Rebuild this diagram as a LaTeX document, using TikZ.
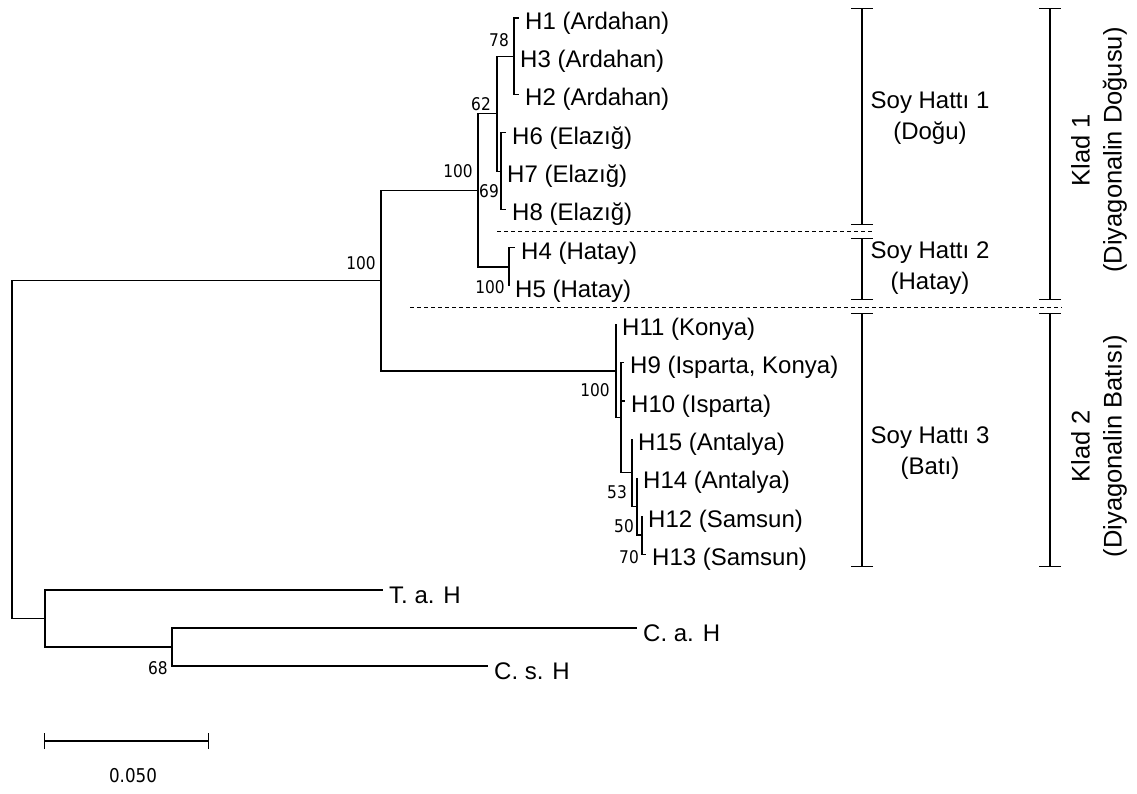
\documentclass[tikz,border=0pt]{standalone}
\usepackage{fontspec}
\setmainfont{Liberation Sans}
\newfontfamily\numfont[FakeStretch=0.88]{DejaVu Sans}
\usetikzlibrary{arrows.meta}
\tikzset{
    branch/.style={line width=1.2pt},
    longbranch/.style={line width=2pt},
    taxon/.style={anchor=west, inner sep=0pt, xshift=6pt, yshift=-5pt, font=\fontsize{24}{28}\selectfont},
    support/.style={inner sep=0pt, font=\numfont\fontsize{17.5}{19}\selectfont},
    lineage/.style={line width=1.4pt, {Bar[width=22pt]}-{Bar[width=22pt]}},
    lineagelbl/.style={align=center, inner sep=0pt, font=\fontsize{24}{31}\selectfont},
    kladlbl/.style={align=center, inner sep=0pt, rotate=90, font=\fontsize{25.5}{32}\selectfont},
    divider/.style={line width=1pt, dash pattern=on 4pt off 3pt}
}

\begin{document}
\begin{tikzpicture}[x=1pt, y=-1pt]
    \useasboundingbox (0,0) rectangle (1137,794);
% Inner nodes
    \coordinate (root) at (12,449.6);
    \coordinate (ing) at (381,280.7);
    \coordinate (k1) at (478,190.4);
    \coordinate (n62) at (497,113.8);
    \coordinate (n78) at (514,56.3);
    \coordinate (n69) at (501,171.2);
    \coordinate (n45) at (509,267);
    \coordinate (k2) at (616,371);
    \coordinate (m1) at (621,417.7);
    \coordinate (m2) at (632,472.8);
    \coordinate (m3) at (637,506.3);
    \coordinate (m4) at (642,535);
    \coordinate (og) at (45,618.5);
    \coordinate (pc) at (172,647);
% Tips
    \coordinate (H1) at (519,18);
    \coordinate (H3) at (514,56.3);
    \coordinate (H2) at (519,94.6);
    \coordinate (H6) at (506,132.9);
    \coordinate (H7) at (501,171.2);
    \coordinate (H8) at (506,209.5);
    \coordinate (H4) at (515,247.8);
    \coordinate (H5) at (509,286.1);
    \coordinate (H11) at (616,324.4);
    \coordinate (H9) at (624,362.7);
    \coordinate (H10) at (625,401);
    \coordinate (H15) at (632,439.3);
    \coordinate (H14) at (637,477.6);
    \coordinate (H12) at (642,515.9);
    \coordinate (H13) at (646,554.2);
    \coordinate (Tah) at (383,590);
    \coordinate (Cah) at (637,628);
    \coordinate (Csh) at (488,666);
% Branches
    \draw[branch] (root) |- (ing);
    \draw[branch] (root) |- (og);
    \draw[branch] (ing) |- (k1);
    \draw[branch] (ing) |- (k2);
    \draw[branch] (k1) |- (n62);
    \draw[branch] (k1) |- (n45);
    \draw[branch] (n62) |- (n78);
    \draw[branch] (n62) |- (n69);
    \draw[branch] (n78) |- (H1);
    \draw[branch] (n78) |- (H3);
    \draw[branch] (n78) |- (H2);
    \draw[branch] (n69) |- (H6);
    \draw[branch] (n69) |- (H7);
    \draw[branch] (n69) |- (H8);
    \draw[branch] (n45) |- (H4);
    \draw[branch] (n45) |- (H5);
    \draw[branch] (k2) |- (H11);
    \draw[branch] (k2) |- (m1);
    \draw[branch] (m1) |- (H9);
    \draw[branch] (m1) |- (H10);
    \draw[branch] (m1) |- (m2);
    \draw[branch] (m2) |- (H15);
    \draw[branch] (m2) |- (m3);
    \draw[branch] (m3) |- (H14);
    \draw[branch] (m3) |- (m4);
    \draw[branch] (m4) |- (H12);
    \draw[branch] (m4) |- (H13);
    \draw[branch] (og) |- (pc);
    \draw[longbranch] (og) |- (Tah);
    \draw[longbranch] (pc) |- (Cah);
    \draw[longbranch] (pc) |- (Csh);
% Taxon labels
    \node[taxon] (lH1) at (H1) {H1 (Ardahan)};
    \node[taxon] (lH3) at (H3) {H3 (Ardahan)};
    \node[taxon] (lH2) at (H2) {H2 (Ardahan)};
    \node[taxon] (lH6) at (H6) {H6 (Elazığ)};
    \node[taxon] (lH7) at (H7) {H7 (Elazığ)};
    \node[taxon] (lH8) at (H8) {H8 (Elazığ)};
    \node[taxon] (lH4) at (H4) {H4 (Hatay)};
    \node[taxon] (lH5) at (H5) {H5 (Hatay)};
    \node[taxon] (lH11) at (H11) {H11 (Konya)};
    \node[taxon] (lH9) at (H9) {H9 (Isparta, Konya)};
    \node[taxon] (lH10) at (H10) {H10 (Isparta)};
    \node[taxon] (lH15) at (H15) {H15 (Antalya)};
    \node[taxon] (lH14) at (H14) {H14 (Antalya)};
    \node[taxon] (lH12) at (H12) {H12 (Samsun)};
    \node[taxon] (lH13) at (H13) {H13 (Samsun)};
    \node[taxon] (lTah) at (Tah) {T. a. H};
    \node[taxon] (lCah) at (Cah) {C. a. H};
    \node[taxon] (lCsh) at (Csh) {C. s. H};
% Bootstrap values
    \node[support] (sing) at (361,263) {100};
    \node[support] (sk1) at (458,171) {100};
    \node[support] (s62) at (481,104) {62};
    \node[support] (s78) at (499,40) {78};
    \node[support] (s69) at (489,191) {69};
    \node[support] (s45) at (490,287) {100};
    \node[support] (sk2) at (595,390) {100};
    \node[support] (s53) at (617,492) {53};
    \node[support] (s50) at (624,526) {50};
    \node[support] (s70) at (629,557) {70};
    \node[support] (s68) at (158,668) {68};
% Lineage bars
    \draw[divider] (497,231.5) -- (874,231.5);
    \draw[divider] (410,307) -- (1062,307);
    \draw[lineage] (862,8) -- (862,225);
    \draw[lineage] (862,238) -- (862,300);
    \draw[lineage] (862,313) -- (862,567);
    \draw[lineage] (1050,8) -- (1050,300);
    \draw[lineage] (1050,313) -- (1050,567);
    \node[lineagelbl] (soy1) at (930,118) {Soy Hattı 1\\(Doğu)};
    \node[lineagelbl] (soy2) at (930,268) {Soy Hattı 2\\(Hatay)};
    \node[lineagelbl] (soy3) at (930,453) {Soy Hattı 3\\(Batı)};
    \node[kladlbl] (klad1) at (1099,150) {Klad 1\\(Diyagonalin Doğusu)};
    \node[kladlbl] (klad2) at (1099,446) {Klad 2\\(Diyagonalin Batısı)};
% Scale bar
    \draw[line width=1.4pt, {Bar[width=16pt]}-{Bar[width=16pt]}] (44,741) -- (209,741);
    \node[support, font=\numfont\fontsize{19}{21}\selectfont] (scale) at (133,776) {0.050};
\end{tikzpicture}
\end{document}
